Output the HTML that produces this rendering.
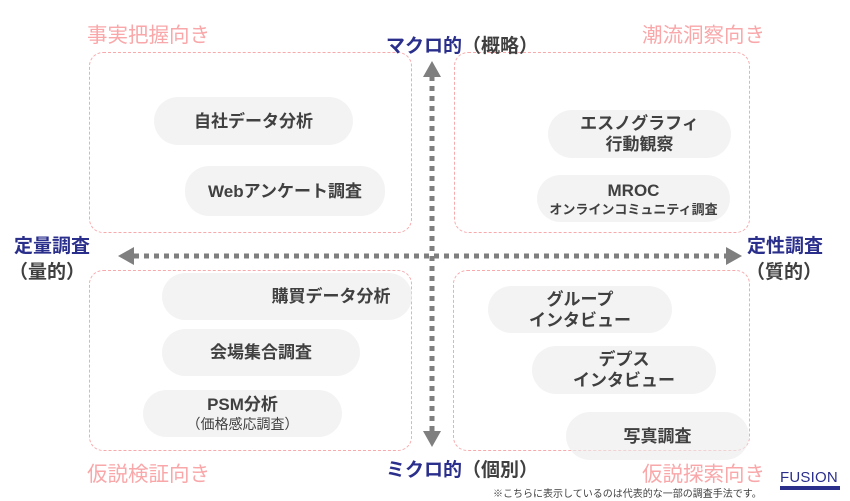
<!DOCTYPE html>
<html><head><meta charset="utf-8"><style>
body{margin:0;width:850px;height:501px;background:#fff;position:relative;overflow:hidden;font-family:"Liberation Sans","Noto Sans CJK JP",sans-serif}
.a{position:absolute}
.box{position:absolute;border:1.3px dashed #f7a9ab;border-radius:14px;box-sizing:border-box}
.pill{position:absolute;background:rgba(236,236,236,0.62);border-radius:24px;display:flex;align-items:center;justify-content:center;flex-direction:column;color:#404040;font-weight:bold;font-size:17px;line-height:21px;text-align:center}
.pk{position:absolute;color:#f9a7a9;font-size:20.5px;white-space:nowrap}
.nv{position:absolute;color:#2b2f8c;font-weight:bold;font-size:19px;white-space:nowrap}
.dk{color:#404040}
</style></head><body>
<div class="pk" style="left:87px;top:18px">事実把握向き</div>
<div class="pk" style="left:642px;top:18px">潮流洞察向き</div>
<div class="pk" style="left:87px;top:457px">仮説検証向き</div>
<div class="pk" style="left:642px;top:457px">仮説探索向き</div>

<div class="box" style="left:89px;top:52px;width:323px;height:181px"></div>
<div class="box" style="left:454px;top:52px;width:296px;height:181px"></div>
<div class="box" style="left:89px;top:270px;width:323px;height:181px"></div>
<div class="box" style="left:453px;top:270px;width:297px;height:181px"></div>

<svg class="a" style="left:0;top:0" width="850" height="501">
<line x1="432" y1="76" x2="432" y2="434" stroke="#7f7f7f" stroke-width="5" stroke-dasharray="5,5"/>
<polygon points="432,61 423,77 441,77" fill="#7f7f7f"/>
<polygon points="432,447 423,431 441,431" fill="#7f7f7f"/>
<line x1="134" y1="256" x2="730" y2="256" stroke="#7f7f7f" stroke-width="5" stroke-dasharray="5,5"/>
<polygon points="118,256 134,247 134,265" fill="#7f7f7f"/>
<polygon points="742,256 726,247 726,265" fill="#7f7f7f"/>
</svg>

<div class="pill" style="left:154px;top:97px;width:199px;height:48px">自社データ分析</div>
<div class="pill" style="left:185px;top:166px;width:200px;height:50px">Webアンケート調査</div>
<div class="pill" style="left:548px;top:110px;width:183px;height:48px">エスノグラフィ<br>行動観察</div>
<div class="pill" style="left:537px;top:175px;width:193px;height:47px"><span>MROC</span><span style="font-size:13px;line-height:17px">オンラインコミュニティ調査</span></div>
<div class="pill" style="left:162px;top:273px;width:250px;height:47px;padding-left:88px;box-sizing:border-box">購買データ分析</div>
<div class="pill" style="left:162px;top:329px;width:198px;height:47px">会場集合調査</div>
<div class="pill" style="left:143px;top:390px;width:199px;height:47px"><span>PSM分析</span><span style="font-weight:normal;font-size:14px;line-height:18px">（価格感応調査）</span></div>
<div class="pill" style="left:488px;top:286px;width:184px;height:47px">グループ<br>インタビュー</div>
<div class="pill" style="left:532px;top:346px;width:184px;height:48px">デプス<br>インタビュー</div>
<div class="pill" style="left:566px;top:412px;width:183px;height:48px">写真調査</div>

<div class="nv" style="left:386px;top:31px">マクロ的<span class="dk">（概略）</span></div>
<div class="nv" style="left:386px;top:455px">ミクロ的<span class="dk">（個別）</span></div>
<div class="nv" style="left:14px;top:231px">定量調査</div>
<div class="nv dk" style="left:9px;top:257px">（量的）</div>
<div class="nv" style="left:747px;top:231px">定性調査</div>
<div class="nv dk" style="left:746px;top:257px">（質的）</div>

<div class="a" style="left:780px;top:471px;width:60px;color:#2b2f8c;font-size:15px;line-height:14px;letter-spacing:0.2px">FUSION<div style="height:4px;background:#2b2f8c;margin-top:1px"></div></div>
<div class="a" style="left:493px;top:485px;font-size:10px;color:#404040;white-space:nowrap">※こちらに表示しているのは代表的な一部の調査手法です。</div>
</body></html>
